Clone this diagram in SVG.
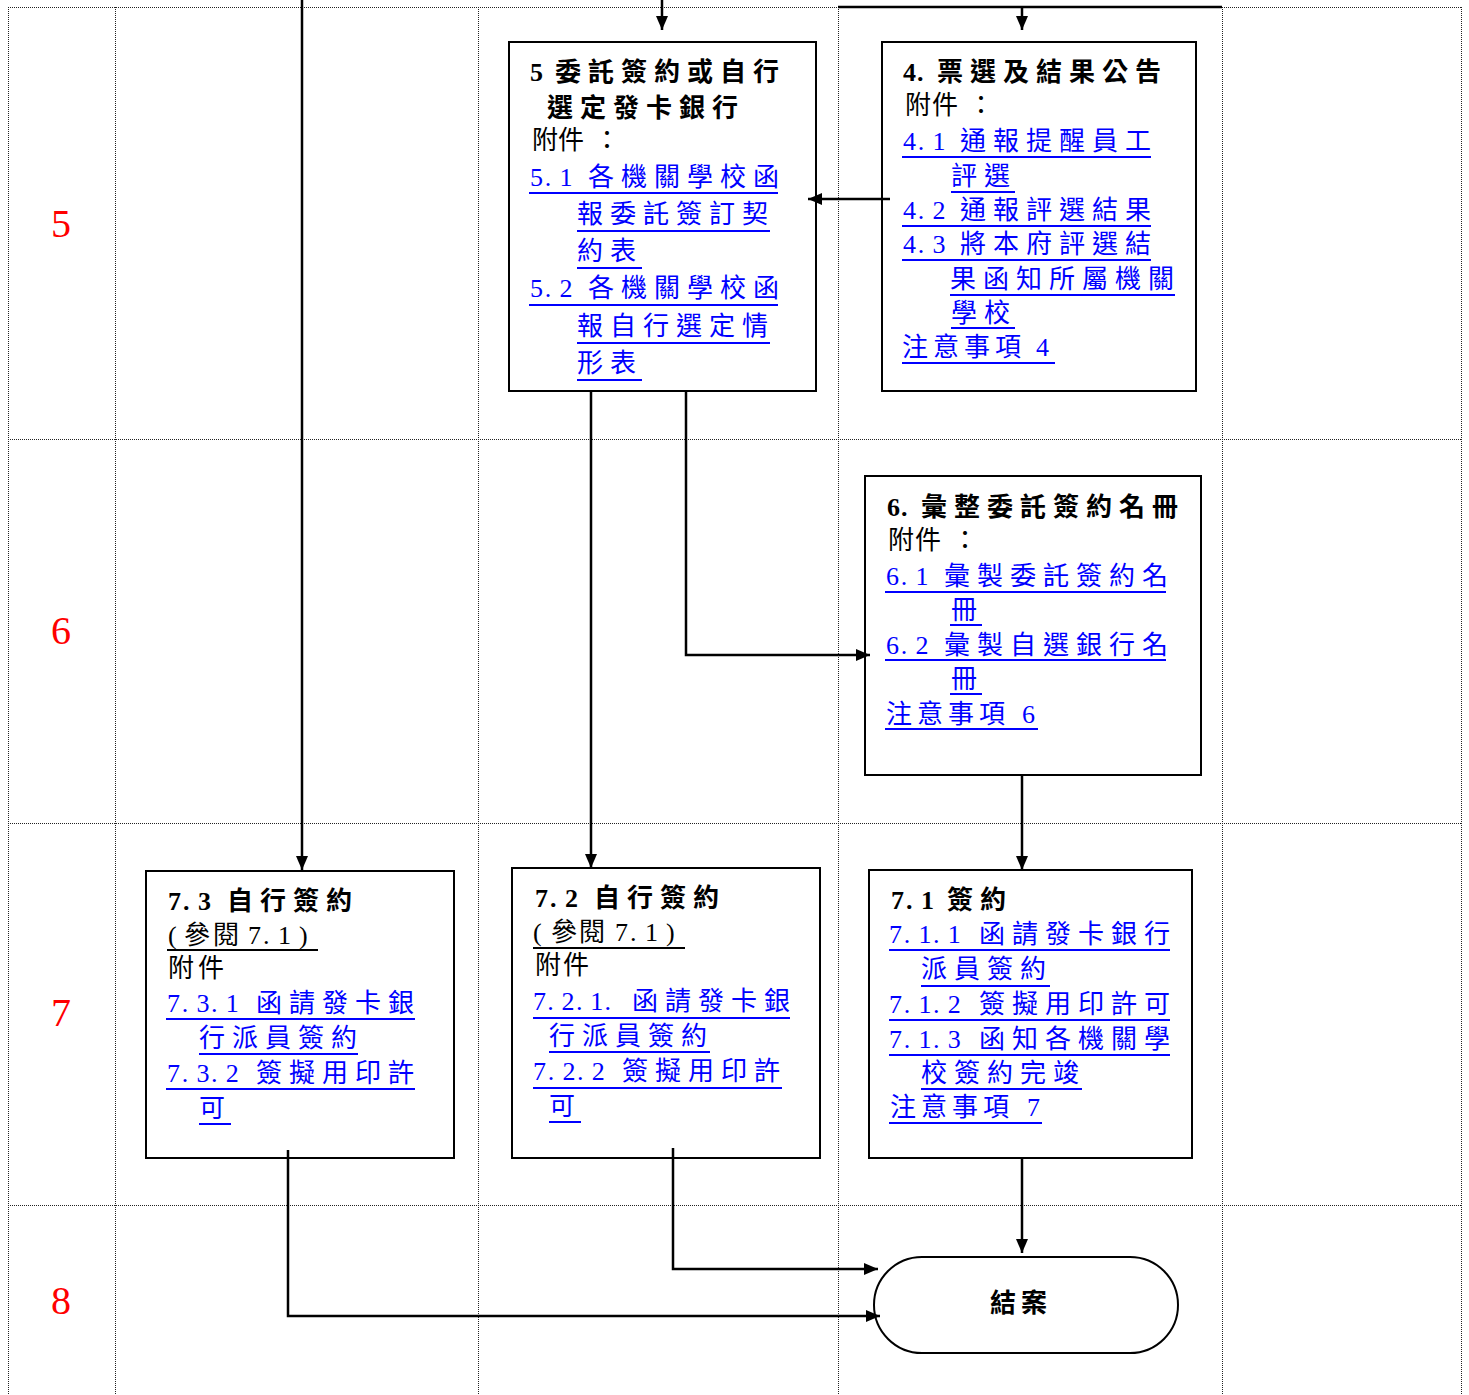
<svg xmlns="http://www.w3.org/2000/svg" width="1469" height="1395" viewBox="0 0 1469 1395">
<style>
.t{font-family:"Liberation Serif","Noto Sans CJK TC",serif;font-size:26px;fill:#000;letter-spacing:7px}
.b{font-weight:bold}
.l{fill:#0000ff}
.ul{stroke:#0000ff;stroke-width:2}
.uk{stroke:#000;stroke-width:2}
.row{font-family:"Liberation Serif",serif;font-size:40px;fill:#ff0000;text-anchor:middle}
.box{fill:#fff;stroke:#000;stroke-width:2}
.grid{stroke:#222;stroke-width:1;stroke-dasharray:1 1;fill:none}
.c{stroke:#000;stroke-width:2.5;fill:none}
</style>
<defs>
<marker id="arr" markerUnits="userSpaceOnUse" markerWidth="14" markerHeight="12" refX="14" refY="6" orient="auto">
<path d="M0,0 L14,6 L0,12 z" fill="#000"/>
</marker>
</defs>
<rect width="1469" height="1395" fill="#fff"/>
<g id="grid">
<path class="grid" d="M8,7.5 H1462 M8,439.5 H1462 M8,823.5 H1462 M8,1205.5 H1462"/>
<path class="grid" d="M8.5,7 V1395 M115.5,7 V1395 M478.5,7 V1395 M838.5,7 V1395 M1222.5,7 V1395 M1461.5,7 V1395"/>
</g>
<g id="rows">
<text class="row" x="61" y="237">5</text>
<text class="row" x="61" y="644">6</text>
<text class="row" x="61" y="1026">7</text>
<text class="row" x="61" y="1314">8</text>
</g>
<g id="n5">
<rect class="box" x="509" y="42" width="307" height="349"/>
<text class="t b" x="530 545 555" y="81">5 委託簽約或自行</text>
<text class="t b" x="547" y="117">選定發卡銀行</text>
<text class="t" x="532 558 594" y="149">附件：</text>
<text class="t l" x="530 544.7 559.4 574.1 588" y="186">5.1 各機關學校函</text>
<text class="t l" x="577" y="223">報委託簽訂契</text>
<text class="t l" x="577" y="260">約表</text>
<text class="t l" x="530 544.7 559.4 574.1 588" y="297">5.2 各機關學校函</text>
<text class="t l" x="577" y="335">報自行選定情</text>
<text class="t l" x="577" y="372">形表</text>
<path class="ul" d="M529,193 H778 M577,231 H770 M577,268 H642 M529,305 H778 M577,343 H770 M577,380 H642"/>
</g>
<g id="n4">
<rect class="box" x="882" y="42" width="314" height="349"/>
<text class="t b" x="903 917 929 937" y="81">4. 票選及結果公告</text>
<text class="t" x="905 932 968" y="114">附件：</text>
<text class="t l" x="903 917.7 932.4 947.1 960" y="150">4.1 通報提醒員工</text>
<text class="t l" x="951" y="185">評選</text>
<text class="t l" x="903 917.7 932.4 947.1 960" y="219">4.2 通報評選結果</text>
<text class="t l" x="903 917.7 932.4 947.1 960" y="253">4.3 將本府評選結</text>
<text class="t l" x="950" y="288">果函知所屬機關</text>
<text class="t l" x="951" y="322">學校</text>
<text class="t l" x="902 933 964 995 1026 1036" y="356">注意事項 4</text>
<path class="ul" d="M902,157 H1151 M951,192 H1015 M902,226 H1151 M902,260 H1151 M950,295 H1175 M951,328 H1015 M902,363 H1055"/>
</g>
<g id="n6">
<rect class="box" x="865" y="476" width="336" height="299"/>
<text class="t b" x="887 901 912 921" y="516">6. 彙整委託簽約名冊</text>
<text class="t" x="888 915 952" y="549">附件：</text>
<text class="t l" x="886 900.7 915.4 930.1 944" y="585">6.1 彙製委託簽約名</text>
<text class="t l" x="951" y="619">冊</text>
<text class="t l" x="886 900.7 915.4 930.1 944" y="654">6.2 彙製自選銀行名</text>
<text class="t l" x="951" y="688">冊</text>
<text class="t l" x="886 917 948 979 1010 1022" y="723">注意事項 6</text>
<path class="ul" d="M885,592 H1166 M950,625 H982 M885,660 H1166 M950,694 H982 M885,729 H1038"/>
</g>
<g id="n73">
<rect class="box" x="146" y="871" width="308" height="287"/>
<text class="t b" x="168 183 198 213 227" y="910">7.3 自行簽約</text>
<text class="t" x="168 184 213 243 248 263 278 299" y="944">(參閱 7.1)</text>
<text class="t" x="168 198" y="977">附件</text>
<text class="t l" x="167 181.7 196.4 211.1 225.8 240.5 256" y="1012">7.3.1 函請發卡銀</text>
<text class="t l" x="199" y="1047">行派員簽約</text>
<text class="t l" x="167 181.7 196.4 211.1 225.8 240.5 256" y="1082">7.3.2 簽擬用印許</text>
<text class="t l" x="199" y="1117">可</text>
<path class="uk" d="M167,950 H318"/>
<path class="ul" d="M166,1019 H415 M199,1054 H358 M166,1089 H415 M199,1124 H231"/>
</g>
<g id="n72">
<rect class="box" x="512" y="868" width="308" height="290"/>
<text class="t b" x="535 550 565 580 594" y="907">7.2 自行簽約</text>
<text class="t" x="533 551 579 610 615 630 645 666" y="941">(參閱 7.1)</text>
<text class="t" x="535 563" y="974">附件</text>
<text class="t l" x="533 547.3 561.6 575.9 590.2 604.5 618 632" y="1010">7.2.1. 函請發卡銀</text>
<text class="t l" x="549" y="1045">行派員簽約</text>
<text class="t l" x="533 547.7 562.4 577.1 591.8 606.5 622" y="1080">7.2.2 簽擬用印許</text>
<text class="t l" x="549" y="1115">可</text>
<path class="uk" d="M533,948 H685"/>
<path class="ul" d="M533,1018 H790 M549,1052 H710 M533,1088 H782 M549,1122 H581"/>
</g>
<g id="n71">
<rect class="box" x="869" y="870" width="323" height="288"/>
<text class="t b" x="891 906 921 935 947" y="909">7.1 簽約</text>
<text class="t l" x="889 903.7 918.4 933.1 947.8 962.5 979" y="943">7.1.1 函請發卡銀行</text>
<text class="t l" x="921" y="978">派員簽約</text>
<text class="t l" x="889 903.7 918.4 933.1 947.8 962.5 979" y="1013">7.1.2 簽擬用印許可</text>
<text class="t l" x="889 903.7 918.4 933.1 947.8 962.5 979" y="1048">7.1.3 函知各機關學</text>
<text class="t l" x="921" y="1082">校簽約完竣</text>
<text class="t l" x="890 921 952 983 1014 1027" y="1116">注意事項 7</text>
<path class="ul" d="M889,950 H1170 M921,986 H1050 M889,1020 H1170 M889,1055 H1170 M921,1089 H1082 M889,1123 H1042"/>
</g>
<g id="end">
<rect class="box" x="874" y="1257" width="304" height="96" rx="48" ry="48"/>
<text class="t b" x="990 1021" y="1312">結案</text>
</g>
<g id="connectors">
<path class="c" d="M302,0 V870" marker-end="url(#arr)"/>
<path class="c" d="M662,0 V30" marker-end="url(#arr)"/>
<path class="c" d="M838,7 H1222"/>
<path class="c" d="M1022,7 V30" marker-end="url(#arr)"/>
<path class="c" d="M890,199 H808" marker-end="url(#arr)"/>
<path class="c" d="M591,391 V868" marker-end="url(#arr)"/>
<path class="c" d="M686,391 V655 H870" marker-end="url(#arr)"/>
<path class="c" d="M1022,775 V870" marker-end="url(#arr)"/>
<path class="c" d="M1022,1158 V1253" marker-end="url(#arr)"/>
<path class="c" d="M673,1148 V1269 H878" marker-end="url(#arr)"/>
<path class="c" d="M288,1150 V1316 H880" marker-end="url(#arr)"/>
</g>
</svg>
